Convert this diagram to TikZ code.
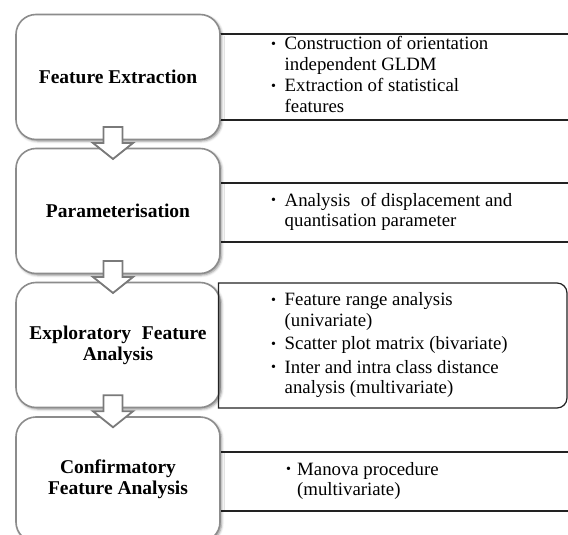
\documentclass[tikz,border=0pt]{standalone}
\usepackage{fontspec}
\usepackage{graphicx}
\setmainfont{Liberation Serif}
\usetikzlibrary{calc,shadows.blur}

\definecolor{boxedge}{HTML}{8C8C8C}
\definecolor{arrowedge}{HTML}{7A7A7A}
\definecolor{lineink}{HTML}{222222}

% small bullet in a fixed-width slot, so the item texts line up
\newcommand{\dotmark}[1][13.5pt]{\makebox[#1][l]{\raisebox{0.08em}{\scalebox{0.75}{\textbullet}}}}

\tikzset{
  stage/.style={draw=boxedge, line width=1.6pt, fill=white, rounded corners=20pt,
    minimum width=204pt, minimum height=125pt, align=center, inner sep=2pt,
    font=\fontsize{19.5}{21}\selectfont\bfseries,
    blur shadow={shadow xshift=1.5pt, shadow yshift=-1.5pt,
                 shadow blur radius=2.5pt, shadow opacity=45}},
  band/.style={draw=lineink, line width=1.2pt, fill=white, minimum width=470pt, inner sep=0pt},
  notes/.style={anchor=west, inner sep=0pt, font=\fontsize{18.8}{20.5}\selectfont},
  blockarrow/.style={draw=arrowedge, line width=1.8pt, fill=white, line join=miter},
  downarrow/.pic={
    \draw[blockarrow] (-9.5,-17) -- (9.5,-17) -- (9.5,-1) -- (20,-1)
      -- (0,15) -- (-20,-1) -- (-9.5,-1) -- cycle;}
}

\begin{document}
\begin{tikzpicture}[x=1pt,y=-1pt]
  \useasboundingbox (0,0) rectangle (568,535);
  \clip (0,0) rectangle (568,535);

  % open bands on the right, their left ends hidden behind the stages
  \node[band, minimum height=86pt] (r1) at (385,77) {};
  \node[band, minimum height=59pt] (r2) at (385,212.5) {};
  \node[band, minimum height=59pt] (r4) at (385,481.5) {};

  % process stages
  \node[stage] (b1) at (118,77)    {Feature Extraction};
  \node[stage] (b2) at (118,211)   {Parameterisation};
  \node[stage] (b3) at (118,345)   {Exploratory\hspace{0.3em} Feature\\Analysis};
  \node[stage] (b4) at (118,479.5) {Confirmatory\\Feature Analysis};

  % closed band with rounded right corners
  \draw[draw=lineink, line width=1.2pt]
    (218.5,283) -- (557,283) arc[start angle=-90, end angle=0, radius=10]
    -- (567,398) arc[start angle=0, end angle=90, radius=10]
    -- (218.5,408) -- cycle;

  % descriptions
  \node[notes] (t1) at (271,77) {\begin{tabular}{@{}l@{}l@{}}
      \dotmark & Construction of orientation\\
               & independent GLDM\\[1pt]
      \dotmark & Extraction of statistical\\
               & features
    \end{tabular}};
  \node[notes] (t2) at (271,212.5) {\begin{tabular}{@{}l@{}l@{}}
      \dotmark & Analysis\hspace{0.3em} of displacement and\\
               & quantisation parameter
    \end{tabular}};
  \node[notes] (t3) at (271,345.5) {\begin{tabular}{@{}l@{}l@{}}
      \dotmark & Feature range analysis\\
               & (univariate)\\[3pt]
      \dotmark & Scatter plot matrix (bivariate)\\[3pt]
      \dotmark & Inter and intra class distance\\
               & analysis (multivariate)
    \end{tabular}};
  \node[notes] (t4) at (286,481.5) {\begin{tabular}{@{}l@{}l@{}}
      \dotmark[11pt] & Manova procedure\\
                     & (multivariate)
    \end{tabular}};

  % hollow block arrows between consecutive stages
  \pic at ($(b1.south)!0.5!(b2.north)+(-5,0)$) {downarrow};
  \pic at ($(b2.south)!0.5!(b3.north)+(-5,0)$) {downarrow};
  \pic at ($(b3.south)!0.5!(b4.north)+(-5,0)$) {downarrow};
\end{tikzpicture}
\end{document}
